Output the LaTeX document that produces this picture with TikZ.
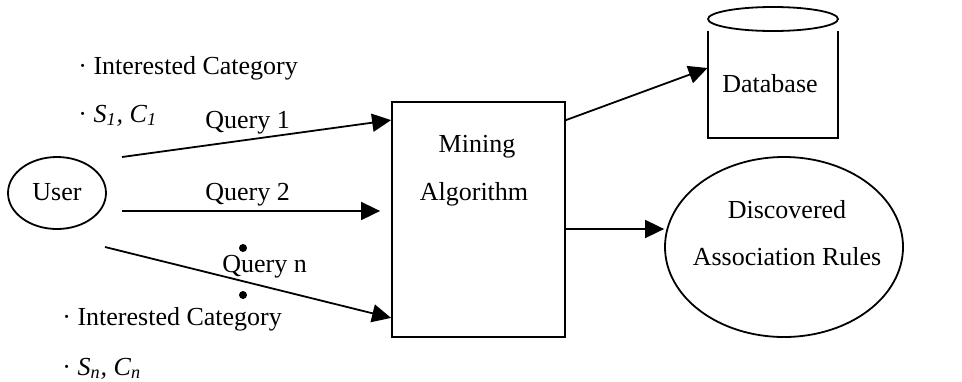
\documentclass[tikz,border=0pt]{standalone}
\usepackage{fontspec}
\setmainfont{Liberation Serif}
\usetikzlibrary{arrows.meta,positioning,shapes.geometric}

\begin{document}
\begin{tikzpicture}[
  x=0.5pt, y=-0.5pt,
  >={Triangle[length=9.5pt,width=9pt]}, font=\fontsize{13}{15}\selectfont,
  txt/.style={inner sep=0pt, anchor=base west},
  ctr/.style={inner sep=0pt, anchor=base},
  arr/.style={->, line width=0.9pt},
  ln/.style={line width=0.9pt},
]
  \useasboundingbox (0,0) rectangle (962,381);
  % user and its queries
  \node[draw, ln, ellipse, minimum width=49pt, minimum height=36pt] (user) at (57,193) {};
  \node[ctr] (usertxt) at (57,200) {User};
  \node[txt] (cat1) at (78,74) {\textperiodcentered\ Interested Category};
  \node[txt] (sc1) at (78,122) {\textperiodcentered\ \textit{S\textsubscript{1}, C\textsubscript{1}}};
  \node[txt] (catn) at (62,325) {\textperiodcentered\ Interested Category};
  \node[txt] (scn) at (62,375) {\textperiodcentered\ \textit{S\textsubscript{n}, C\textsubscript{n}}};
  \node[txt] (q1) at (205,128) {Query 1};
  \node[txt] (q2) at (205,200) {Query 2};
  \node[txt] (qn) at (222,272) {Query n};
  \fill (243,248) circle (2pt) (243,295) circle (2pt);
  % mining box
  \node[draw, ln, minimum width=86.5pt, minimum height=117.5pt] (mine) at (478.5,219.5) {};
  \node[ctr] (mtxt) at (477,152) {Mining};
  \node[ctr] (atxt) at (474,200) {Algorithm};
  \coordinate (s1) at (122,157);
  \coordinate (s2) at (122,211);
  \coordinate (sn) at (105,247);
  \draw[arr] (s1) -- ([yshift=-9.5pt]mine.north west);
  \draw[arr] (s2) -- ([xshift=-5.5pt]mine.west |- s2);
  \draw[arr] (sn) -- ([yshift=10pt]mine.south west);
  % database
  \node[minimum width=65pt, minimum height=59.5pt] (db) at (773,78.5) {};
  \draw[ln] (708,31) -- (708,138) -- (838,138) -- (838,31);
  \draw[ln] (773,19) ellipse (32.5pt and 6pt);
  \node[ctr] (dbtxt) at (770,92) {Database};
  \draw[arr] ([yshift=-9.5pt]mine.north east) -- ([yshift=5.25pt]db.west);
  % rules
  \node[draw, ln, ellipse, minimum width=119pt, minimum height=90pt] (rules) at (784,247) {};
  \node[ctr] (r1) at (787,218) {Discovered};
  \node[ctr] (r2) at (787,265) {Association Rules};
  \draw[arr] (mine.east |- 0,229) -- (rules.west |- 0,229);
\end{tikzpicture}
\end{document}
